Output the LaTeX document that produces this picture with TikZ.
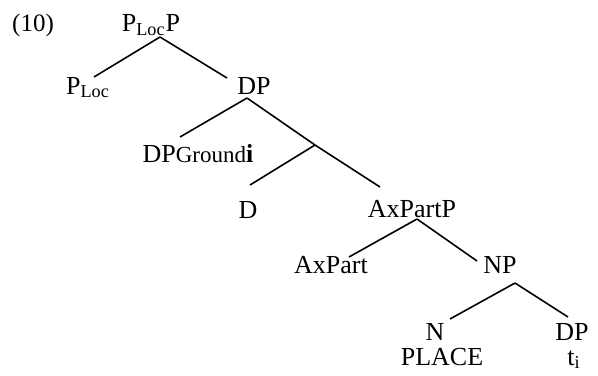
\documentclass[tikz,border=0pt]{standalone}
\usepackage{fontspec}
\setmainfont{Liberation Serif}
\usetikzlibrary{positioning,calc}

\begin{document}
\begin{tikzpicture}[thick,x=0.5pt,y=-0.5pt]
\tikzstyle{cat} = [draw=none,inner sep=0pt,anchor=base,font=\fontsize{13}{15}\selectfont]
\tikzstyle{num} = [draw=none,inner sep=0pt,anchor=base,font=\fontsize{12.5}{14}\selectfont]
\useasboundingbox (0,0) rectangle (598,375);
\node[num] (ex) at (33,31) {(10)} ;
\node[cat] (plocp) at (151,32) {P\textsubscript{Loc}P} ;
\node[cat] (ploc) at (88,94) {P\textsubscript{Loc}} ;
\node[cat] (dp) at (254,94) {DP} ;
\node[cat] (dpg) at (198,162) {DP{\fontsize{11.5}{13}\selectfont Ground}\textbf{i}} ;
\coordinate (j) at (315,145) ;
\node[cat] (d) at (248,218) {D} ;
\node[cat] (axpp) at (412,217) {AxPartP} ;
\node[cat] (axp) at (331,273) {AxPart} ;
\node[cat] (np) at (500,273) {NP} ;
\node[cat] (n) at (435,340) {N} ;
\node[cat] (dpt) at (572,340) {DP} ;
\node[cat] (place) at (442,365) {PLACE} ;
\node[cat] (t) at (574,365) {t\textsubscript{i}} ;
% branches
\draw ($(plocp.base)+(9,5)$) -- ($(ploc.base)+(6,-17)$) ;
\draw ($(plocp.base)+(9,5)$) -- ($(dp.base)+(-27,-16)$) ;
\draw ($(dp.base)+(-7,4)$) -- ($(dpg.base)+(-18,-25)$) ;
\draw ($(dp.base)+(-7,4)$) -- (j) ;
\draw (j) -- ($(d.base)+(2,-33)$) ;
\draw (j) -- ($(axpp.base)+(-32,-30)$) ;
\draw ($(axpp.base)+(5,2)$) -- ($(axp.base)+(18,-16)$) ;
\draw ($(axpp.base)+(5,2)$) -- ($(np.base)+(-23,-12)$) ;
\draw ($(np.base)+(15,10)$) -- ($(n.base)+(15,-21)$) ;
\draw ($(np.base)+(15,10)$) -- ($(dpt.base)+(-4,-23)$) ;
\end{tikzpicture}
\end{document}
